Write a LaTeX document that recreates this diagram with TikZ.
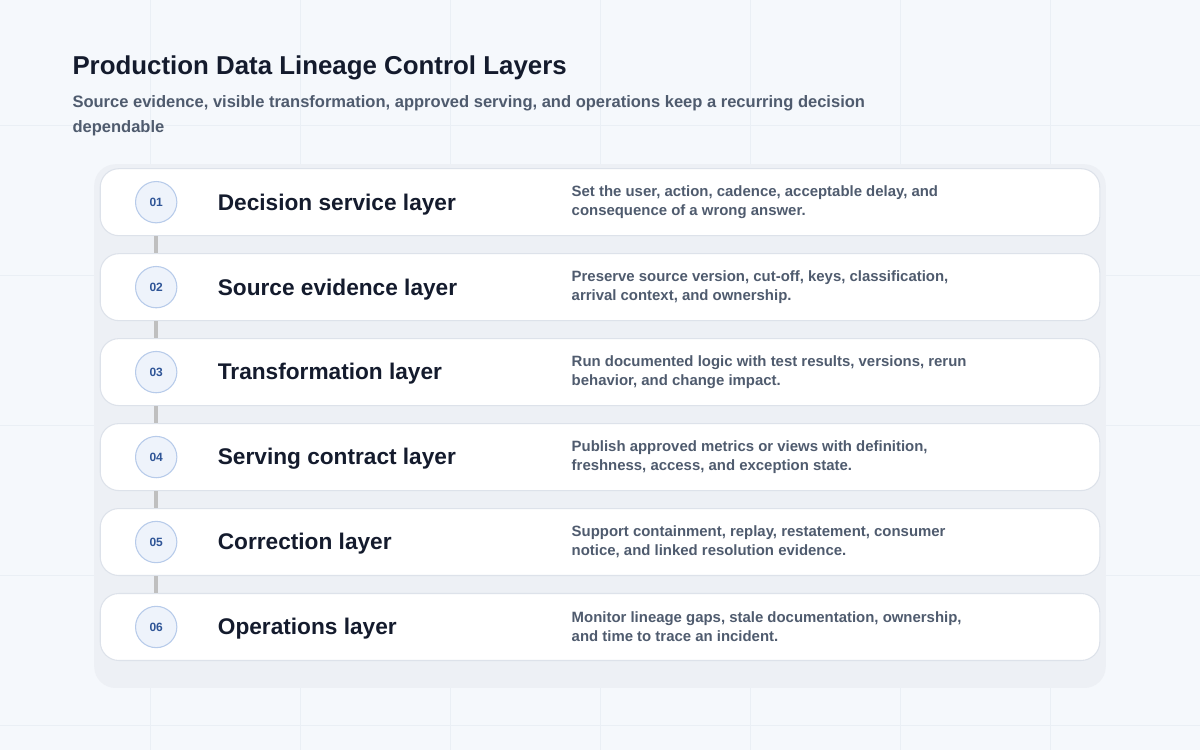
\documentclass[tikz,border=0pt]{standalone}
\usepackage{fontspec}
\setmainfont{Liberation Sans}
\definecolor{bg}{HTML}{F5F8FC}
\definecolor{grid}{HTML}{EAEFF5}
\definecolor{panel}{HTML}{EDF0F5}
\definecolor{ink}{HTML}{141B2D}
\definecolor{slate}{HTML}{4F5B6E}
\definecolor{cfill}{HTML}{EEF3FB}
\definecolor{cdraw}{HTML}{B7CBEA}
\definecolor{ctext}{HTML}{2F5597}
\definecolor{cardline}{HTML}{DDE2EA}
\begin{document}
\begin{tikzpicture}[x=0.75pt,y=-0.75pt,
  card/.style={draw=cardline,line width=0.8pt,fill=white,rounded corners=14pt,minimum width=750pt,minimum height=50.25pt,inner sep=0pt},
  num/.style={circle,draw=cdraw,line width=0.8pt,fill=cfill,minimum size=31pt,inner sep=0pt,font=\bfseries\fontsize{9}{9}\selectfont,text=ctext},
  ttl/.style={anchor=west,font=\bfseries\fontsize{17}{18}\selectfont,text=ink},
  dsc/.style={anchor=west,align=left,font=\bfseries\fontsize{11.2}{14.5}\selectfont,text=slate},
  link/.style={draw=black!25,line width=3pt}]
\fill[bg] (0,0) rectangle (1200,750);
\foreach \x in {150,300,...,1050} \draw[grid] (\x,0) -- (\x,750);
\foreach \y in {125,275,...,725} \draw[grid] (0,\y) -- (1200,\y);
\fill[panel,rounded corners=16pt] (94,164) rectangle (1106,688);
\node[anchor=west,inner sep=0pt,font=\bfseries\fontsize{19.4}{20}\selectfont,text=ink] (title) at (72,68) {Production Data Lineage Control Layers};
\node[anchor=north west,align=left,font=\bfseries\fontsize{12.4}{18.5}\selectfont,text=slate,inner sep=0pt] (sub) at (72,95) {Source evidence, visible transformation, approved serving, and operations keep a recurring decision\\dependable};
\foreach \i/\t/\d [count=\k] in {
 01/Decision service layer/{Set the user, action, cadence, acceptable delay, and\\consequence of a wrong answer.},
 02/Source evidence layer/{Preserve source version, cut-off, keys, classification,\\arrival context, and ownership.},
 03/Transformation layer/{Run documented logic with test results, versions, rerun\\behavior, and change impact.},
 04/Serving contract layer/{Publish approved metrics or views with definition,\\freshness, access, and exception state.},
 05/Correction layer/{Support containment, replay, restatement, consumer\\notice, and linked resolution evidence.},
 06/Operations layer/{Monitor lineage gaps, stale documentation, ownership,\\and time to trace an incident.}}{
  \pgfmathsetmacro{\yy}{202+85*(\k-1)}
  \node[card] (c\k) at (600,\yy) {};
  \node[num] (n\k) at (156,\yy) {\i};
  \node[ttl] (t\k) at (213,\yy+2) {\t};
  \node[dsc] (d\k) at (567,\yy) {\d};
}
\foreach \a/\b in {1/2,2/3,3/4,4/5,5/6} \draw[link] (c\a.south -| n\a) -- (c\b.north -| n\a);
\end{tikzpicture}
\end{document}
